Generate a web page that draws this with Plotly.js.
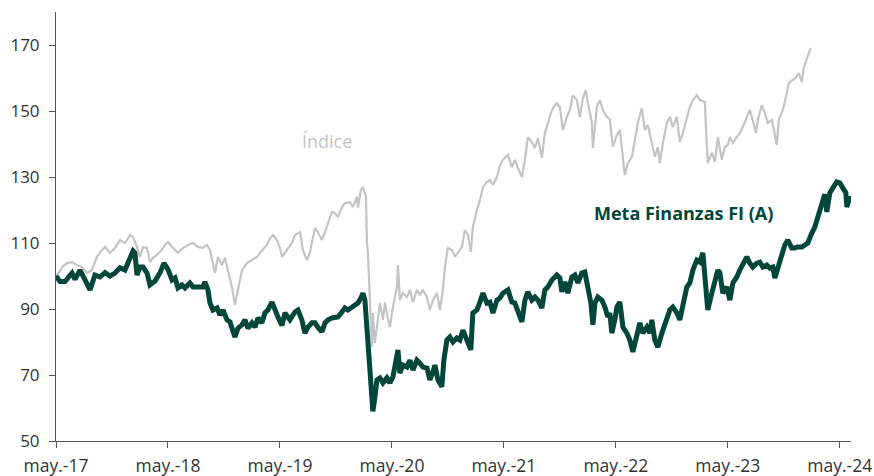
<!DOCTYPE html>
<html>
<head>
<meta charset="utf-8">
<script src="https://cdn.plot.ly/plotly-3.0.1.min.js"></script>
<style>
  html, body { margin: 0; padding: 0; background: #ffffff; }
  #chart { width: 874px; height: 476px; }
</style>
</head>
<body>
<div id="chart"></div>
<script>
// Years elapsed since May 2017 (x) and base-100 values (y)
const fundYears = [0.000,0.036,0.080,0.125,0.143,0.170,0.214,0.259,0.304,0.348,0.393,0.438,0.482,0.527,0.571,0.616,0.643,0.688,0.705,0.723,0.750,0.777,0.813,0.839,0.884,0.929,0.964,
1.000,1.036,1.063,1.089,1.125,1.152,1.196,1.223,1.268,1.313,1.330,1.357,1.375,1.402,1.438,1.464,1.491,1.527,1.554,1.580,1.598,1.625,1.661,1.688,1.714,1.750,1.777,1.804,1.839,1.866,1.893,1.929,1.955,1.982,
2.018,2.045,2.089,2.134,2.161,2.196,2.223,2.250,2.286,2.313,2.339,2.375,2.402,2.429,2.464,2.491,2.518,2.554,2.580,2.607,2.643,2.670,2.696,2.723,2.741,2.759,2.777,2.786,2.804,2.821,2.830,2.848,2.866,2.893,2.920,2.955,2.982,
3.009,3.027,3.054,3.071,3.098,3.134,3.161,3.188,3.223,3.250,3.277,3.313,3.339,3.366,3.384,3.411,3.446,3.464,3.491,3.518,3.545,3.580,3.607,3.634,3.670,3.705,3.723,3.759,3.786,3.813,3.848,3.875,3.902,3.938,3.964,3.991,
4.036,4.071,4.098,4.125,4.161,4.188,4.214,4.250,4.277,4.304,4.339,4.366,4.393,4.429,4.473,4.500,4.518,4.545,4.571,4.607,4.634,4.661,4.696,4.723,4.750,4.777,4.795,4.813,4.839,4.875,4.902,4.929,4.946,4.964,4.991,
5.009,5.036,5.063,5.098,5.125,5.152,5.188,5.214,5.241,5.277,5.304,5.321,5.348,5.375,5.411,5.438,5.482,5.509,5.545,5.571,5.598,5.634,5.661,5.688,5.723,5.750,5.777,5.795,5.813,5.821,5.857,5.884,5.911,5.929,5.955,5.991,
6.018,6.045,6.080,6.107,6.134,6.170,6.196,6.223,6.259,6.286,6.313,6.348,6.375,6.402,6.420,6.446,6.482,6.509,6.536,6.571,6.598,6.625,6.661,6.688,6.714,6.750,6.777,6.804,6.839,6.866,6.884,6.911,6.938,6.973,
7.000,7.027,7.054,7.063,7.089,7.107];
const fundValues = [100.0,98.3,98.3,100.3,100.9,99.0,101.8,98.8,95.8,100.3,99.7,101.0,100.0,100.9,102.5,101.8,103.9,107.6,107.0,100.3,102.7,102.7,100.9,97.3,98.5,101.0,103.9,
102.0,98.8,99.4,96.4,97.3,96.4,97.9,96.7,96.7,96.7,98.2,95.8,91.8,89.7,90.3,88.2,89.7,86.7,86.1,83.1,81.5,84.2,85.2,86.7,84.2,85.8,84.5,87.3,85.8,88.8,89.7,92.1,90.3,87.6,
85.0,88.8,86.7,89.1,89.7,86.7,82.7,84.5,85.8,85.8,84.5,83.1,85.8,86.7,87.3,87.6,87.6,89.1,90.3,89.7,90.6,91.2,91.8,93.3,94.8,92.7,84.5,79.7,71.5,67.6,59.0,63.3,68.5,69.1,67.6,69.1,67.6,
69.4,72.4,77.6,70.6,73.0,72.4,74.5,71.5,74.5,73.6,72.4,72.1,68.5,70.9,73.0,68.5,66.4,74.5,80.6,81.5,80.0,81.2,80.6,83.6,80.6,77.6,88.8,89.7,92.1,94.8,91.8,92.1,88.8,92.7,93.3,94.8,
95.8,92.1,91.8,89.7,86.1,92.7,95.2,92.7,93.6,92.7,90.3,95.8,96.7,98.8,100.3,99.4,95.2,98.2,94.8,99.7,100.3,97.9,100.9,101.2,96.7,91.8,85.2,91.8,93.6,92.7,90.6,87.6,88.8,82.7,86.7,
90.6,92.1,84.5,82.7,80.6,77.0,81.5,85.8,82.7,84.5,82.7,86.7,80.6,78.5,82.7,85.8,89.7,90.6,88.8,86.7,90.6,96.7,97.9,101.8,104.8,104.2,107.0,98.8,93.6,89.7,94.8,98.8,101.8,100.9,94.8,96.7,
92.7,97.9,99.7,101.8,103.9,105.8,103.9,102.7,103.9,104.2,102.7,103.3,102.4,102.7,99.4,102.7,107.0,109.4,110.9,108.5,108.5,108.8,108.8,109.4,110.0,113.0,114.8,117.9,122.1,124.8,119.4,125.2,126.7,128.5,
128.2,127.0,125.2,120.9,123.9,123.0];

const indexYears = [0.000,0.036,0.054,0.098,0.143,0.188,0.232,0.277,0.321,0.366,0.411,0.438,0.482,0.527,0.571,0.616,0.661,0.688,0.723,0.750,0.777,0.813,0.839,0.866,0.902,0.946,0.973,
1.000,1.045,1.089,1.134,1.179,1.223,1.268,1.313,1.348,1.375,1.402,1.420,1.446,1.482,1.509,1.536,1.571,1.598,1.625,1.661,1.705,1.750,1.795,1.821,1.848,1.884,1.911,1.938,1.973,
2.000,2.018,2.063,2.107,2.134,2.179,2.205,2.241,2.268,2.313,2.339,2.375,2.402,2.429,2.464,2.491,2.518,2.554,2.580,2.625,2.652,2.688,2.696,2.723,2.741,2.768,2.777,2.786,2.804,2.821,2.830,2.848,2.866,2.893,2.920,2.938,2.964,2.982,
3.009,3.045,3.054,3.071,3.098,3.134,3.161,3.188,3.223,3.250,3.277,3.313,3.339,3.366,3.402,3.429,3.455,3.473,3.500,3.536,3.563,3.589,3.625,3.652,3.679,3.705,3.723,3.759,3.786,3.813,3.848,3.875,3.902,3.938,3.964,3.991,
4.036,4.071,4.098,4.125,4.161,4.188,4.214,4.250,4.277,4.304,4.339,4.366,4.393,4.429,4.473,4.500,4.527,4.563,4.589,4.616,4.652,4.679,4.705,4.732,4.750,4.786,4.795,4.830,4.857,4.884,4.920,4.946,4.973,
5.009,5.036,5.063,5.080,5.107,5.143,5.170,5.196,5.232,5.259,5.286,5.321,5.348,5.375,5.393,5.420,5.455,5.482,5.509,5.545,5.571,5.598,5.634,5.661,5.688,5.723,5.750,5.795,5.813,5.821,5.857,5.884,5.911,5.946,5.973,
6.000,6.018,6.045,6.080,6.107,6.134,6.170,6.196,6.223,6.250,6.268,6.304,6.330,6.357,6.393,6.420,6.438,6.455,6.491,6.518,6.545,6.580,6.607,6.634,6.661,6.679,6.705,6.723,6.741];
const indexValues = [100.0,101.5,102.7,103.9,104.2,103.3,102.7,100.9,101.8,105.8,107.9,108.8,107.0,108.5,110.9,110.0,112.4,111.8,108.8,105.8,108.8,108.5,104.2,105.5,106.4,107.9,109.4,
110.3,108.5,107.0,108.5,109.4,110.0,108.8,108.5,109.4,107.9,103.9,100.9,105.8,103.3,105.5,101.2,96.7,91.2,95.8,101.8,103.9,104.8,105.8,107.0,107.9,109.4,111.5,112.4,110.9,
108.5,105.8,107.9,110.0,112.4,113.3,107.9,104.8,107.3,114.5,113.3,110.9,113.3,116.1,119.4,119.1,117.9,120.9,122.1,122.4,120.9,124.0,120.6,126.1,127.0,124.0,110.0,107.0,93.6,78.5,88.8,79.7,84.5,91.8,86.7,92.0,87.0,84.5,
90.6,96.7,103.3,92.7,94.8,93.6,95.8,92.1,95.8,94.2,95.8,93.6,89.7,92.7,94.8,89.7,95.8,102.7,108.5,107.9,105.8,107.0,108.8,113.9,112.4,107.3,114.8,120.0,123.0,127.0,128.5,129.1,127.6,130.0,133.5,135.2,
136.7,133.0,135.2,132.7,130.0,135.2,142.1,140.6,138.8,141.8,135.8,143.3,146.4,150.3,152.4,151.2,144.2,148.2,150.3,154.8,153.3,148.2,153.9,156.4,152.4,146.4,138.8,151.2,153.3,150.3,148.2,147.5,139.1,
142.7,144.2,136.1,130.6,134.2,136.1,141.2,146.4,150.9,144.2,145.8,140.6,136.1,139.1,134.2,140.3,146.4,148.2,145.2,148.2,140.6,143.3,148.2,151.2,153.3,154.8,153.3,152.7,139.1,134.2,137.3,134.6,142.1,135.2,139.1,
139.7,142.1,140.3,142.1,143.3,145.2,148.2,150.3,147.3,143.3,147.3,151.8,149.4,146.4,147.3,142.1,139.7,147.3,150.3,154.2,158.5,159.4,160.0,161.5,158.8,163.3,166.0,167.6,169.1];

const tickYears = [0,1,2,3,4,5,6,7];
const tickLabels = ['may.-17','may.-18','may.-19','may.-20','may.-21','may.-22','may.-23','may.-24'];
const yTicks = [50,70,90,110,130,150,170];

const indexName = 'Índice';
const fundName = 'Meta Finanzas FI (A)';

const GREEN = '#00473a';
const GREY = '#c4c4c4';
const FONT = '"Open Sans", "Noto Sans", sans-serif';

const traces = [
  { x: indexYears, y: indexValues, type: 'scatter', mode: 'lines', name: indexName,
    line: { color: GREY, width: 2.2 } },
  { x: fundYears, y: fundValues, type: 'scatter', mode: 'lines', name: fundName,
    line: { color: GREEN, width: 5 } }
];

const layout = {
  width: 874, height: 476,
  margin: { l: 56, r: 23, t: 12, b: 35 },
  paper_bgcolor: '#ffffff', plot_bgcolor: '#ffffff',
  showlegend: false,
  font: { family: FONT, size: 17, color: '#333333' },
  xaxis: {
    range: [0, 7.1], tickvals: tickYears, ticktext: tickLabels,
    showgrid: false, zeroline: false, showline: true, linecolor: '#555555', linewidth: 1,
    ticks: 'outside', ticklen: 6, tickcolor: '#555555', tickwidth: 1,
    ticklabelstandoff: 3,
    tickfont: { family: FONT, size: 17.5, color: '#333333' }
  },
  yaxis: {
    range: [50, 180], tickvals: yTicks,
    showgrid: false, zeroline: false, showline: true, linecolor: '#555555', linewidth: 1,
    ticks: 'outside', ticklen: 6, tickcolor: '#555555', tickwidth: 1,
    ticklabelstandoff: 6,
    tickfont: { family: FONT, size: 17, color: '#333333' }
  },
  annotations: [
    { x: 2.42, y: 140.9, xref: 'x', yref: 'y', text: indexName, showarrow: false,
      font: { family: FONT, size: 18, color: GREY } },
    { x: 5.607, y: 119.1, xref: 'x', yref: 'y', text: '<b>' + fundName + '</b>', showarrow: false,
      font: { family: FONT, size: 18, color: GREEN } }
  ]
};

Plotly.newPlot('chart', traces, layout, { displayModeBar: false, staticPlot: true });
</script>
</body>
</html>
